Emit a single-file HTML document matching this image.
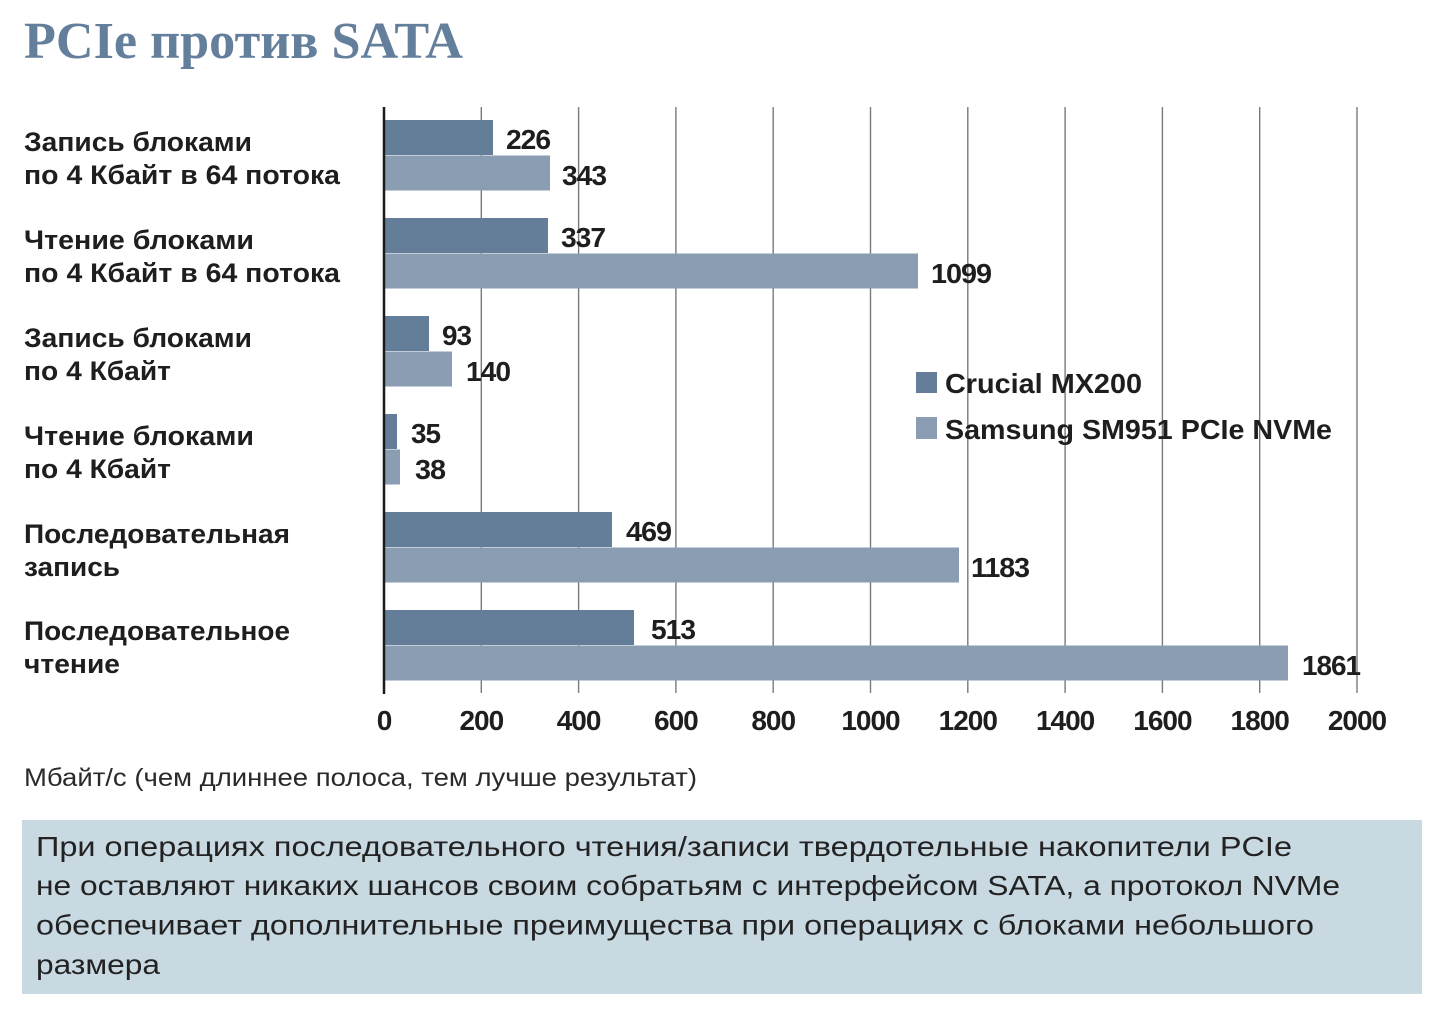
<!DOCTYPE html>
<html>
<head>
<meta charset="utf-8">
<style>
  html,body{margin:0;padding:0;background:#fff;}
  svg{display:block;}
  .lbl{font-family:"Liberation Sans",sans-serif;font-weight:bold;font-size:27px;fill:#1e1e1e;}
  .val{font-family:"Liberation Sans",sans-serif;font-weight:bold;font-size:28px;fill:#1e1e1e;letter-spacing:-1px;}
  .tick{font-family:"Liberation Sans",sans-serif;font-weight:bold;font-size:28px;fill:#1e1e1e;letter-spacing:-1px;}
  .leg{font-family:"Liberation Sans",sans-serif;font-weight:bold;font-size:28px;fill:#1e1e1e;}
  .foot{font-family:"Liberation Sans",sans-serif;font-size:25px;fill:#2a2a2a;}
  .box{font-family:"Liberation Sans",sans-serif;font-size:28px;fill:#222;}
</style>
</head>
<body>
<svg width="1441" height="1029" viewBox="0 0 1441 1029" xmlns="http://www.w3.org/2000/svg">
  <rect width="1441" height="1029" fill="#fff"/>
  <!-- Title -->
  <text x="24" y="58" font-family="'Liberation Serif',serif" font-weight="bold" font-size="52" fill="#637f9c" textLength="439" lengthAdjust="spacingAndGlyphs">PCIe против SATA</text>

  <!-- Grid lines -->
  <g stroke="#7a7a7a" stroke-width="1.4">
    <line x1="481.3" y1="107" x2="481.3" y2="693"/>
    <line x1="578.6" y1="107" x2="578.6" y2="693"/>
    <line x1="675.9" y1="107" x2="675.9" y2="693"/>
    <line x1="773.2" y1="107" x2="773.2" y2="693"/>
    <line x1="870.5" y1="107" x2="870.5" y2="693"/>
    <line x1="967.8" y1="107" x2="967.8" y2="693"/>
    <line x1="1065.1" y1="107" x2="1065.1" y2="693"/>
    <line x1="1162.4" y1="107" x2="1162.4" y2="693"/>
    <line x1="1259.7" y1="107" x2="1259.7" y2="693"/>
    <line x1="1357" y1="107" x2="1357" y2="693"/>
  </g>

  <!-- Bars -->
  <g>
    <rect x="385" y="120" width="108" height="35" fill="#647e99"/>
    <rect x="385" y="155.5" width="165" height="35" fill="#8a9db3"/>
    <rect x="385" y="218" width="163" height="35" fill="#647e99"/>
    <rect x="385" y="253.5" width="533" height="35" fill="#8a9db3"/>
    <rect x="385" y="316" width="44" height="35" fill="#647e99"/>
    <rect x="385" y="351.5" width="67" height="35" fill="#8a9db3"/>
    <rect x="385" y="414" width="12" height="35" fill="#647e99"/>
    <rect x="385" y="449.5" width="15" height="35" fill="#8a9db3"/>
    <rect x="385" y="512" width="227" height="35" fill="#647e99"/>
    <rect x="385" y="547.5" width="574" height="35" fill="#8a9db3"/>
    <rect x="385" y="610" width="249" height="35" fill="#647e99"/>
    <rect x="385" y="645.5" width="903" height="35" fill="#8a9db3"/>
  </g>

  <!-- Axis line -->
  <line x1="384" y1="107" x2="384" y2="694" stroke="#1a1a1a" stroke-width="2.5"/>

  <!-- Value labels -->
  <text class="val" x="506" y="149" textLength="44" lengthAdjust="spacingAndGlyphs">226</text>
  <text class="val" x="562" y="185" textLength="44" lengthAdjust="spacingAndGlyphs">343</text>
  <text class="val" x="561" y="247" textLength="44" lengthAdjust="spacingAndGlyphs">337</text>
  <text class="val" x="931" y="283" textLength="60" lengthAdjust="spacingAndGlyphs">1099</text>
  <text class="val" x="442" y="345" textLength="29" lengthAdjust="spacingAndGlyphs">93</text>
  <text class="val" x="466" y="381" textLength="44" lengthAdjust="spacingAndGlyphs">140</text>
  <text class="val" x="411" y="443" textLength="29" lengthAdjust="spacingAndGlyphs">35</text>
  <text class="val" x="415" y="479" textLength="30" lengthAdjust="spacingAndGlyphs">38</text>
  <text class="val" x="626" y="541" textLength="45" lengthAdjust="spacingAndGlyphs">469</text>
  <text class="val" x="971" y="577" textLength="58" lengthAdjust="spacingAndGlyphs">1183</text>
  <text class="val" x="651" y="639" textLength="44" lengthAdjust="spacingAndGlyphs">513</text>
  <text class="val" x="1302" y="675" textLength="58" lengthAdjust="spacingAndGlyphs">1861</text>

  <!-- Category labels -->
  <text class="lbl" x="24" y="151" textLength="228" lengthAdjust="spacingAndGlyphs">Запись блоками</text>
  <text class="lbl" x="24" y="184" textLength="316" lengthAdjust="spacingAndGlyphs">по 4 Кбайт в 64 потока</text>
  <text class="lbl" x="24" y="249" textLength="230" lengthAdjust="spacingAndGlyphs">Чтение блоками</text>
  <text class="lbl" x="24" y="282" textLength="316" lengthAdjust="spacingAndGlyphs">по 4 Кбайт в 64 потока</text>
  <text class="lbl" x="24" y="347" textLength="228" lengthAdjust="spacingAndGlyphs">Запись блоками</text>
  <text class="lbl" x="24" y="380" textLength="147" lengthAdjust="spacingAndGlyphs">по 4 Кбайт</text>
  <text class="lbl" x="24" y="445" textLength="230" lengthAdjust="spacingAndGlyphs">Чтение блоками</text>
  <text class="lbl" x="24" y="478" textLength="147" lengthAdjust="spacingAndGlyphs">по 4 Кбайт</text>
  <text class="lbl" x="24" y="543" textLength="266" lengthAdjust="spacingAndGlyphs">Последовательная</text>
  <text class="lbl" x="24" y="576" textLength="96" lengthAdjust="spacingAndGlyphs">запись</text>
  <text class="lbl" x="24" y="640" textLength="266" lengthAdjust="spacingAndGlyphs">Последовательное</text>
  <text class="lbl" x="24" y="673" textLength="96" lengthAdjust="spacingAndGlyphs">чтение</text>

  <!-- Tick labels -->
  <g text-anchor="middle">
    <text class="tick" x="384" y="730">0</text>
    <text class="tick" x="481.3" y="730">200</text>
    <text class="tick" x="578.6" y="730">400</text>
    <text class="tick" x="675.9" y="730">600</text>
    <text class="tick" x="773.2" y="730">800</text>
    <text class="tick" x="870.5" y="730">1000</text>
    <text class="tick" x="967.8" y="730">1200</text>
    <text class="tick" x="1065.1" y="730">1400</text>
    <text class="tick" x="1162.4" y="730">1600</text>
    <text class="tick" x="1259.7" y="730">1800</text>
    <text class="tick" x="1357" y="730">2000</text>
  </g>

  <!-- Legend -->
  <rect x="916" y="372" width="21" height="21" fill="#647e99"/>
  <rect x="916" y="417" width="21" height="22" fill="#8a9db3"/>
  <text class="leg" x="945" y="393" textLength="197" lengthAdjust="spacingAndGlyphs">Crucial MX200</text>
  <text class="leg" x="945" y="439" textLength="387" lengthAdjust="spacingAndGlyphs">Samsung SM951 PCIe NVMe</text>

  <!-- Footnote -->
  <text class="foot" x="24" y="786" textLength="673" lengthAdjust="spacingAndGlyphs">Мбайт/с (чем длиннее полоса, тем лучше результат)</text>

  <!-- Caption box -->
  <rect x="22" y="820" width="1400" height="174" fill="#c8d9e2"/>
  <text class="box" x="36" y="856" textLength="1256" lengthAdjust="spacingAndGlyphs">При операциях последовательного чтения/записи твердотельные накопители PCIe</text>
  <text class="box" x="36" y="895" textLength="1304" lengthAdjust="spacingAndGlyphs">не оставляют никаких шансов своим собратьям с интерфейсом SATA, а протокол NVMe</text>
  <text class="box" x="36" y="934.5" textLength="1278" lengthAdjust="spacingAndGlyphs">обеспечивает дополнительные преимущества при операциях с блоками небольшого</text>
  <text class="box" x="36" y="974" textLength="124" lengthAdjust="spacingAndGlyphs">размера</text>
</svg>
</body>
</html>
